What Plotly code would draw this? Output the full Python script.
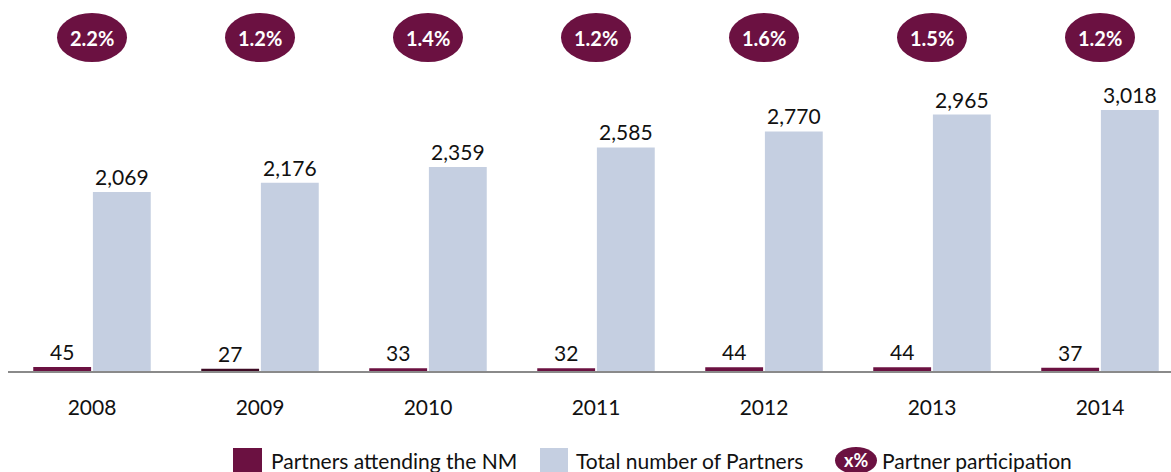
import plotly.graph_objects as go

years = ["2008", "2009", "2010", "2011", "2012", "2013", "2014"]
attending = [45, 27, 33, 32, 44, 44, 37]
total = [2069, 2176, 2359, 2585, 2770, 2965, 3018]
participation = ["2.2%", "1.2%", "1.4%", "1.2%", "1.6%", "1.5%", "1.2%"]

PURPLE = "#6B1141"
PURPLE_DARK = "#3E0B24"
BLUE = "#C5CFE1"
FONT = "Lato"

W, H = 1171, 472
ML, MT, MB, MR = 8, 0, 101, 0
PW = W - ML - MR
PH = H - MT - MB
UNIT = 168.0

def px_x(px):
    return (px - ML) / PW

def px_y(py):
    return (MT + PH - py) / PH

att_colors = [PURPLE_DARK if y == "2009" else PURPLE for y in years]

fig = go.Figure()
fig.add_trace(go.Bar(
    x=years, y=attending, name="Partners attending the NM",
    marker=dict(color=att_colors, line=dict(width=0)),
    text=[f"{v:,}" for v in attending], textposition="outside",
    textfont=dict(family=FONT, size=21, color="#111"), cliponaxis=False,
))
fig.add_trace(go.Bar(
    x=years, y=total, name="Total number of Partners",
    marker=dict(color=BLUE, line=dict(width=0)),
    text=[f"{v:,}" for v in total], textposition="outside",
    textfont=dict(family=FONT, size=21, color="#111"), cliponaxis=False,
))

shapes = []
annotations = []
# participation ellipses
for i, p in enumerate(participation):
    shapes.append(dict(type="circle", xref="x", yref="paper",
                       x0=i - 35 / UNIT, x1=i + 35 / UNIT,
                       y0=px_y(62), y1=px_y(13),
                       fillcolor=PURPLE, line=dict(width=0), layer="above"))
    annotations.append(dict(x=i, y=px_y(38), xref="x", yref="paper", text=f"<b>{p}</b>",
                            showarrow=False, font=dict(family=FONT, size=20, color="white"),
                            xanchor="center", yanchor="middle"))

# custom legend
shapes.append(dict(type="rect", xref="paper", yref="paper",
                   x0=px_x(233), x1=px_x(262), y0=px_y(476), y1=px_y(448),
                   fillcolor=PURPLE, line=dict(width=0)))
annotations.append(dict(x=px_x(269), y=px_y(460), xref="paper", yref="paper",
                        text="Partners attending the NM", showarrow=False,
                        xanchor="left", yanchor="middle",
                        font=dict(family=FONT, size=21, color="#111")))
shapes.append(dict(type="rect", xref="paper", yref="paper",
                   x0=px_x(540), x1=px_x(568), y0=px_y(476), y1=px_y(448),
                   fillcolor=BLUE, line=dict(width=0)))
annotations.append(dict(x=px_x(574), y=px_y(460), xref="paper", yref="paper",
                        text="Total number of Partners", showarrow=False,
                        xanchor="left", yanchor="middle",
                        font=dict(family=FONT, size=21, color="#111")))
shapes.append(dict(type="circle", xref="paper", yref="paper",
                   x0=px_x(835), x1=px_x(877), y0=px_y(474), y1=px_y(447),
                   fillcolor=PURPLE, line=dict(width=0)))
annotations.append(dict(x=px_x(856), y=px_y(460), xref="paper", yref="paper",
                        text="<b>x%</b>", showarrow=False,
                        xanchor="center", yanchor="middle",
                        font=dict(family=FONT, size=18, color="white")))
annotations.append(dict(x=px_x(880), y=px_y(460), xref="paper", yref="paper",
                        text="Partner participation", showarrow=False,
                        xanchor="left", yanchor="middle",
                        font=dict(family=FONT, size=21, color="#111")))

x_end = -0.5 + PW / UNIT
y_top = PH / 0.0865

fig.update_layout(
    width=W, height=H,
    margin=dict(l=ML, r=MR, t=MT, b=MB),
    paper_bgcolor="white", plot_bgcolor="white",
    barmode="group", bargap=0.29, bargroupgap=0.03,
    showlegend=False, hovermode=False,
    shapes=shapes, annotations=annotations,
    font=dict(family=FONT, size=20, color="#111"),
    xaxis=dict(type="category", range=[-0.5, x_end], showline=True,
               linecolor="#8a8a8a", linewidth=2, showgrid=False, ticks="",
               tickfont=dict(family=FONT, size=21, color="#111"),
               ticklabelstandoff=17, fixedrange=True),
    yaxis=dict(range=[0, y_top], visible=False, showgrid=False, zeroline=False,
               fixedrange=True),
)

fig.write_html("out.html", config={"displayModeBar": False},
               post_script="document.body.style.margin='0';document.body.style.overflow='hidden';")
